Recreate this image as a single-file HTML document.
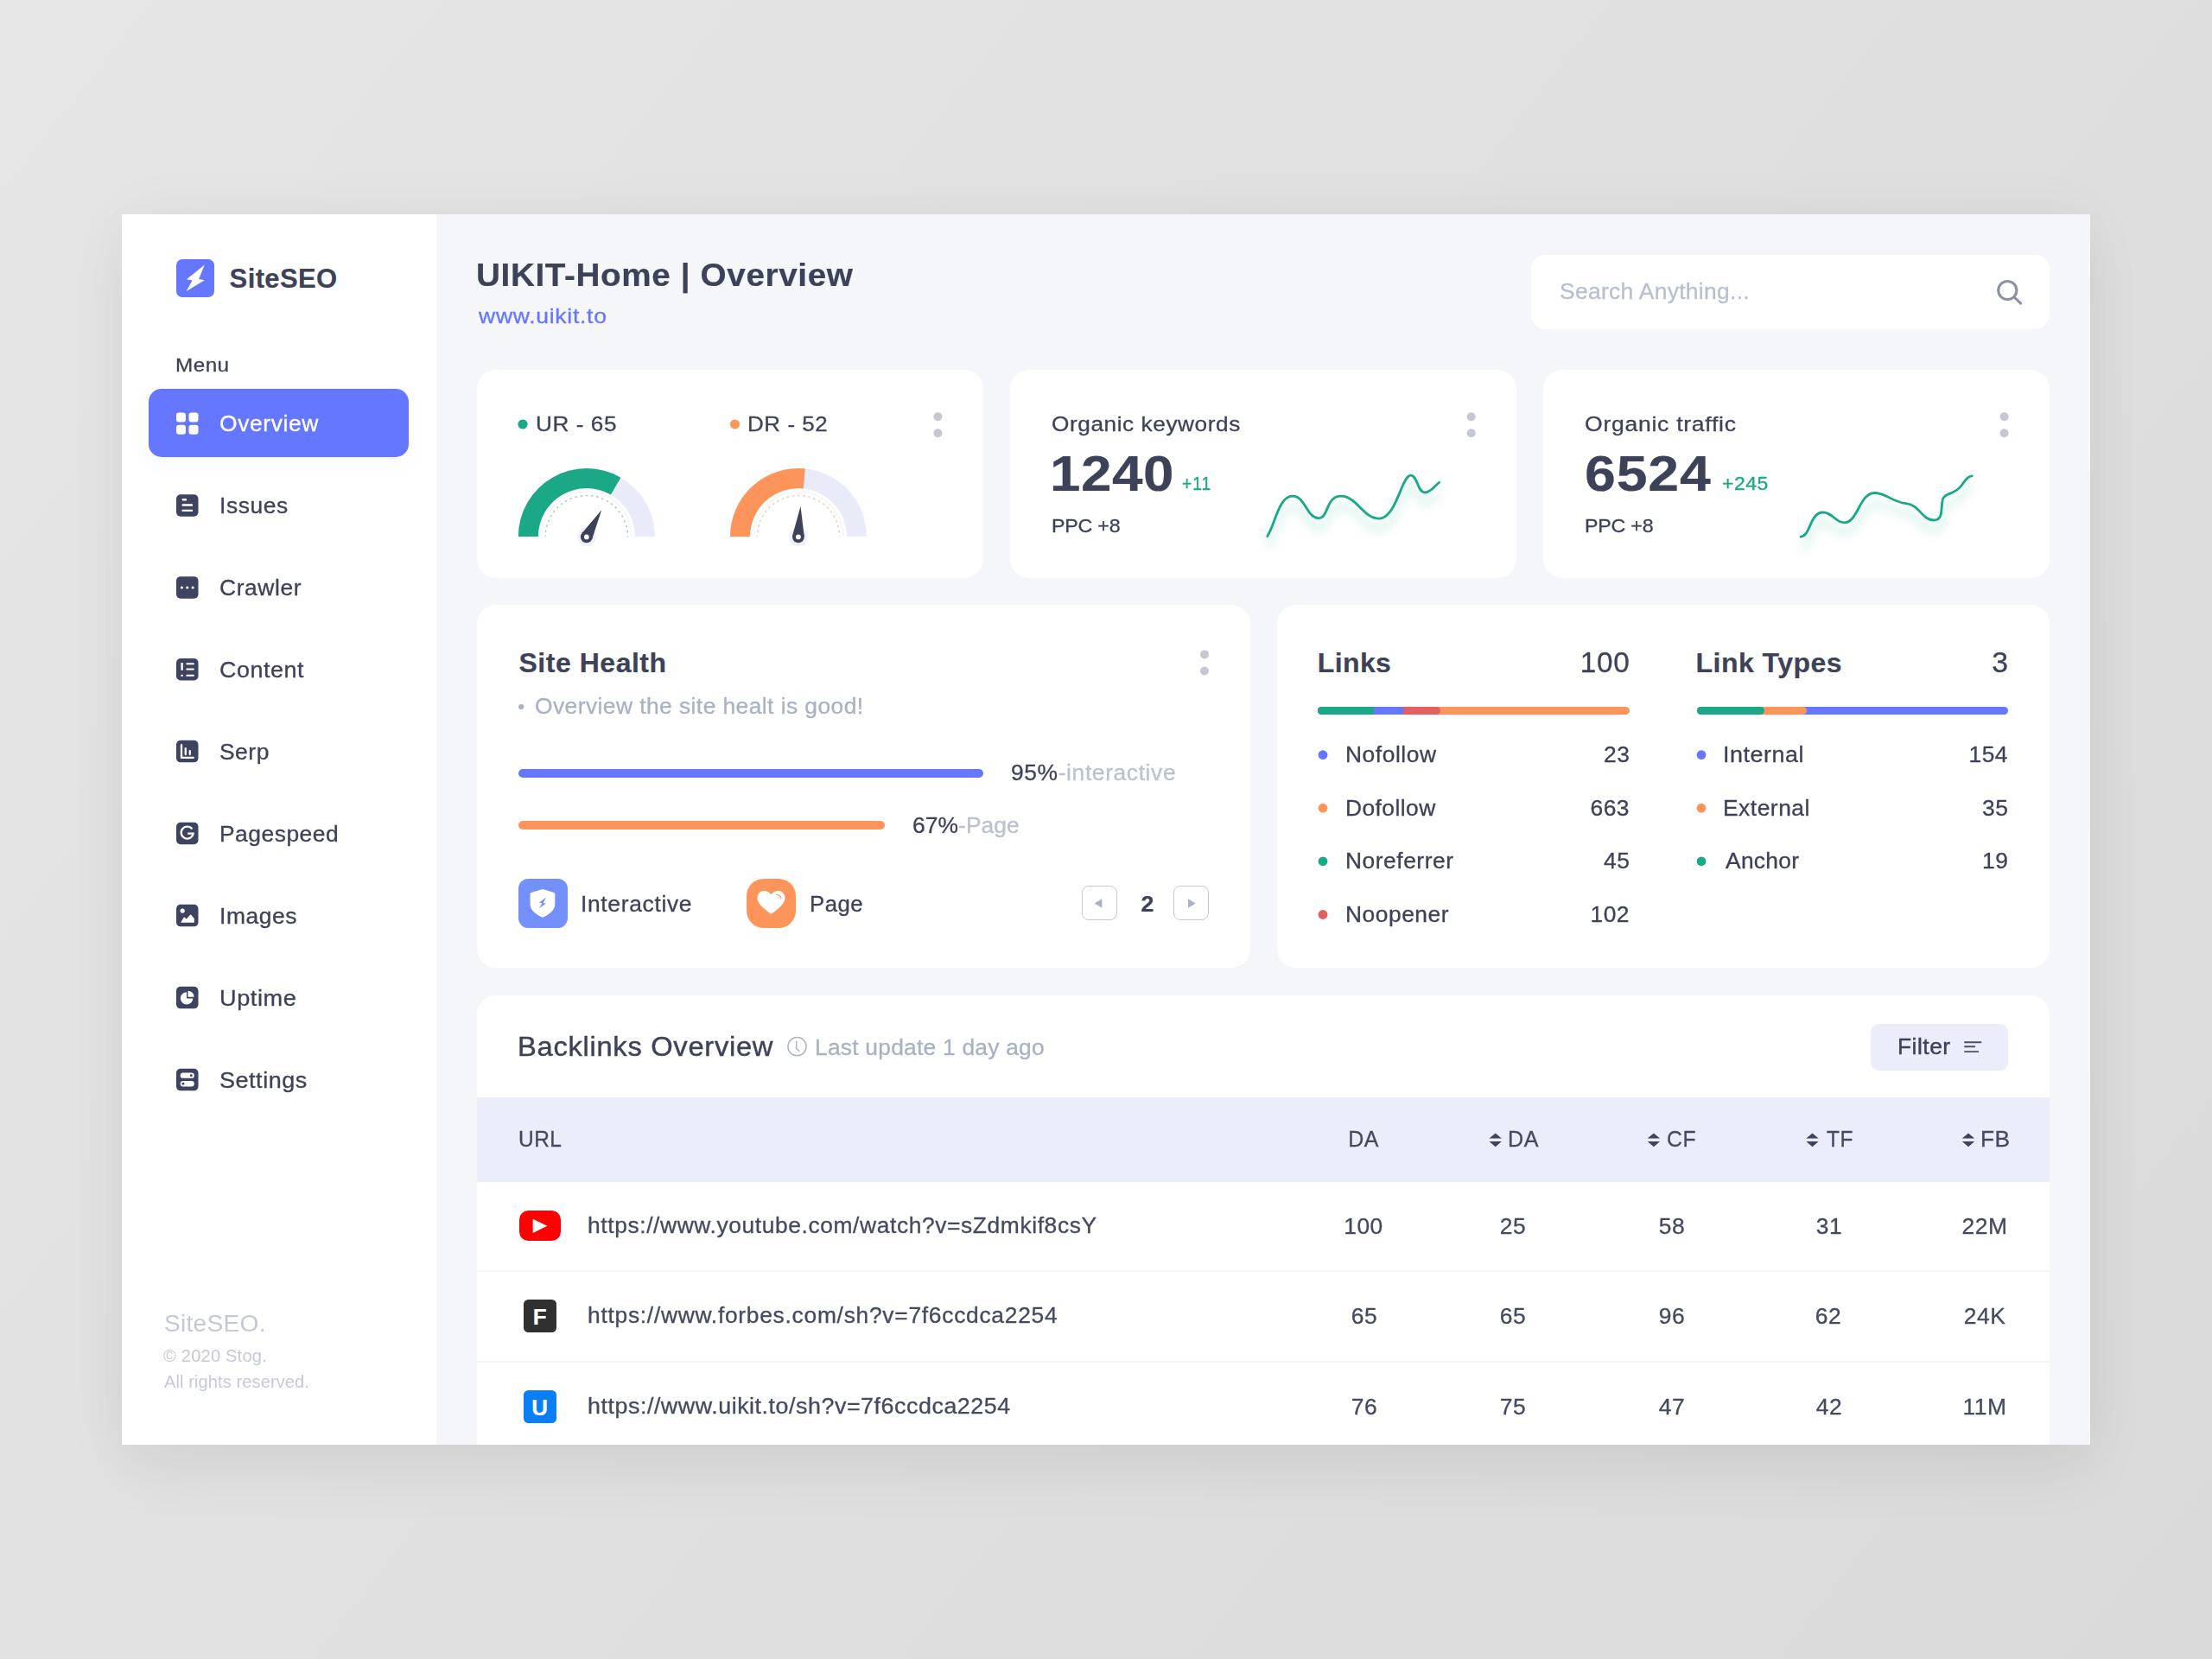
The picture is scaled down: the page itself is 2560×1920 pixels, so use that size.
<!DOCTYPE html>
<html lang="en"><head><meta charset="utf-8"><title>SiteSEO - UIKIT-Home Overview</title>
<style>
html,body{margin:0;padding:0}
body{width:2560px;height:1920px;overflow:hidden;position:relative;background:linear-gradient(128deg,#e6e6e6 0%,#e0e0e0 50%,#dadada 100%);font-family:"Liberation Sans",sans-serif}
.t{position:absolute;white-space:nowrap;line-height:1;-webkit-text-stroke:0.3px currentColor}
.bd{-webkit-text-stroke:0.2px currentColor}
.lt{-webkit-text-stroke:0}
.med{-webkit-text-stroke:0.42px currentColor}
.b{position:absolute}
.card{position:absolute;background:#fff;border-radius:22px}
.gfx{position:absolute;left:0;top:0}
.pg{position:absolute;box-sizing:border-box;border:1.6px solid #c6c9d4;border-radius:8px;background:#fff}
</style></head>
<body>
<div class="b" style="left:141px;top:248px;width:2278px;height:1424px;background:#f5f6fa;box-shadow:0 32px 70px rgba(0,0,0,.052),0 0 70px rgba(0,0,0,.04);"></div>
<aside>
<div class="b" style="left:141px;top:248px;width:364px;height:1424px;background:#ffffff;"></div>
<div class="b" style="left:172px;top:450px;width:301px;height:79px;background:#6576ff;border-radius:15px;box-shadow:0 8px 24px rgba(101,118,255,.045);"></div>
<div class="b" style="left:204px;top:300px;width:44px;height:44px;background:#6576ff;border-radius:7px;"></div>
<div class="t bd" style="top:307.16px;font-size:31.0px;color:#3d4259;font-weight:700;letter-spacing:0.368px;left:265.61px;">SiteSEO</div>
<div class="t" style="top:411.60px;font-size:22.44px;color:#3d4259;letter-spacing:0.449px;left:203.31px;transform:scaleX(1.0805);transform-origin:left center;">Menu</div>
<div class="t" style="top:478.11px;font-size:25.5px;color:#ffffff;letter-spacing:0.609px;left:253.80px;transform:scaleX(1.035);transform-origin:left center;">Overview</div>
<div class="t" style="top:573.01px;font-size:25.5px;color:#3d4259;letter-spacing:0.580px;left:253.80px;transform:scaleX(1.035);transform-origin:left center;">Issues</div>
<div class="t" style="top:667.91px;font-size:25.5px;color:#3d4259;letter-spacing:0.590px;left:253.80px;transform:scaleX(1.035);transform-origin:left center;">Crawler</div>
<div class="t" style="top:762.81px;font-size:25.5px;color:#3d4259;letter-spacing:0.525px;left:253.80px;transform:scaleX(1.0546);transform-origin:left center;">Content</div>
<div class="t" style="top:857.61px;font-size:25.5px;color:#3d4259;letter-spacing:0.510px;left:253.80px;transform:scaleX(1.0346);transform-origin:left center;">Serp</div>
<div class="t" style="top:952.51px;font-size:25.5px;color:#3d4259;letter-spacing:0.491px;left:253.80px;transform:scaleX(1.035);transform-origin:left center;">Pagespeed</div>
<div class="t" style="top:1047.61px;font-size:25.5px;color:#3d4259;letter-spacing:0.562px;left:253.80px;transform:scaleX(1.035);transform-origin:left center;">Images</div>
<div class="t" style="top:1142.61px;font-size:25.5px;color:#3d4259;letter-spacing:0.549px;left:253.80px;transform:scaleX(1.0645);transform-origin:left center;">Uptime</div>
<div class="t" style="top:1237.61px;font-size:25.5px;color:#3d4259;letter-spacing:0.508px;left:253.80px;transform:scaleX(1.0581);transform-origin:left center;">Settings</div>
<div class="t lt" style="top:1517.32px;font-size:28.56px;color:#c5c9d5;letter-spacing:0.262px;left:190.22px;transform:scaleX(0.985);transform-origin:left center;">SiteSEO.</div>
<div class="t lt" style="top:1559.89px;font-size:19.38px;color:#c5c9d5;letter-spacing:0.216px;left:189.20px;transform:scaleX(1.035);transform-origin:left center;">© 2020 Stog.</div>
<div class="t lt" style="top:1589.79px;font-size:19.38px;color:#c5c9d5;letter-spacing:0.100px;left:190.26px;transform:scaleX(1.035);transform-origin:left center;">All rights reserved.</div>
</aside>
<header>
<div class="b" style="left:1772px;top:295px;width:600px;height:85.5px;background:#ffffff;border-radius:17px;"></div>
<div class="t bd" style="top:301.43px;font-size:36.0px;color:#3d4259;font-weight:700;letter-spacing:0.568px;left:551.28px;transform:scaleX(1.075);transform-origin:left center;">UIKIT-Home | Overview</div>
<div class="t" style="top:354.38px;font-size:24.48px;color:#6576ff;letter-spacing:0.648px;left:553.64px;transform:scaleX(1.085);transform-origin:left center;">www.uikit.to</div>
<div class="t" style="top:325.01px;font-size:25.5px;color:#b9bfcf;letter-spacing:0.311px;left:1804.50px;transform:scaleX(1.035);transform-origin:left center;">Search Anything...</div>
</header>
<main>
<section>
<div class="card" style="left:552px;top:428px;width:586px;height:241px;"></div>
<div class="card" style="left:1169px;top:428px;width:586px;height:241px;"></div>
<div class="card" style="left:1786px;top:428px;width:586px;height:241px;"></div>
<div class="t" style="top:478.58px;font-size:24.48px;color:#3d4259;letter-spacing:0.520px;left:620.08px;transform:scaleX(1.07);transform-origin:left center;">UR - 65</div>
<div class="t" style="top:478.58px;font-size:24.48px;color:#3d4259;letter-spacing:0.532px;left:865.37px;transform:scaleX(1.0604);transform-origin:left center;">DR - 52</div>
<div class="t" style="top:478.58px;font-size:24.48px;color:#3d4259;letter-spacing:0.528px;left:1217.26px;transform:scaleX(1.0714);transform-origin:left center;">Organic keywords</div>
<div class="t bd" style="top:519.55px;font-size:57.0px;color:#3d4259;font-weight:700;letter-spacing:0.446px;left:1215.08px;transform:scaleX(1.12);transform-origin:left center;">1240</div>
<div class="t" style="top:549.20px;font-size:22.44px;color:#1aa886;letter-spacing:1.124px;left:1367.76px;transform:scaleX(0.86);transform-origin:left center;">+11</div>
<div class="t" style="top:598.40px;font-size:22.44px;color:#3d4259;letter-spacing:-0.206px;left:1216.59px;transform:scaleX(1.035);transform-origin:left center;">PPC +8</div>
<div class="t" style="top:478.58px;font-size:24.48px;color:#3d4259;letter-spacing:0.670px;left:1834.44px;transform:scaleX(1.085);transform-origin:left center;">Organic traffic</div>
<div class="t bd" style="top:519.55px;font-size:57.0px;color:#3d4259;font-weight:700;letter-spacing:0.752px;left:1833.94px;transform:scaleX(1.13);transform-origin:left center;">6524</div>
<div class="t" style="top:549.20px;font-size:22.44px;color:#1aa886;letter-spacing:0.449px;left:1992.97px;transform:scaleX(1.0268);transform-origin:left center;">+245</div>
<div class="t" style="top:598.40px;font-size:22.44px;color:#3d4259;letter-spacing:-0.206px;left:1833.79px;transform:scaleX(1.035);transform-origin:left center;">PPC +8</div>
</section>
<section>
<div class="card" style="left:552px;top:700px;width:895px;height:420px;"></div>
<div class="card" style="left:1478px;top:700px;width:894px;height:420px;"></div>
<div class="b" style="left:600.3px;top:890.2px;width:537.4px;height:9.6px;background:#6576ff;border-radius:5px;"></div>
<div class="b" style="left:600.3px;top:950.2px;width:423.5px;height:9.6px;background:#fd955b;border-radius:5px;"></div>
<div class="b" style="left:1525px;top:817.5px;width:360.8px;height:9.4px;background:#fd955b;border-radius:5px;"></div>
<div class="b" style="left:1525px;top:817.5px;width:142px;height:9.4px;background:#e2605f;border-radius:5px;"></div>
<div class="b" style="left:1525px;top:817.5px;width:99.9px;height:9.4px;background:#6576ff;border-radius:5px;"></div>
<div class="b" style="left:1525px;top:817.5px;width:64.6px;height:9.4px;background:#1aa886;border-radius:5px;border-radius:5px 0 0 5px;"></div>
<div class="b" style="left:1963.6px;top:817.5px;width:360.4px;height:9.4px;background:#6576ff;border-radius:5px;"></div>
<div class="b" style="left:1963.6px;top:817.5px;width:127.4px;height:9.4px;background:#fd955b;border-radius:5px;"></div>
<div class="b" style="left:1963.6px;top:817.5px;width:78.6px;height:9.4px;background:#1aa886;border-radius:5px;"></div>
<div class="b" style="left:600px;top:1017px;width:56.6px;height:57px;background:#7491fb;border-radius:11.5px;"></div>
<div class="b" style="left:864px;top:1017px;width:56.9px;height:57px;background:#fd955b;border-radius:20px;"></div>
<div class="pg" style="left:1251.7px;top:1025px;width:41px;height:40.4px;"></div>
<div class="pg" style="left:1357.8px;top:1025px;width:41px;height:40.4px;"></div>
<div class="t bd" style="top:751.31px;font-size:32.0px;color:#3d4259;font-weight:700;letter-spacing:0.526px;left:600.48px;">Site Health</div>
<div class="t" style="top:805.01px;font-size:25.5px;color:#a9b2c3;letter-spacing:0.416px;left:618.85px;transform:scaleX(1.035);transform-origin:left center;">Overview the site healt is good!</div>
<div class="t" style="top:882.01px;font-size:25.5px;color:#3d4259;letter-spacing:0.599px;left:1170.06px;transform:scaleX(1.035);transform-origin:left center;">95%<span style="color:#bbc1cf">-interactive</span></div>
<div class="t" style="top:942.71px;font-size:25.5px;color:#3d4259;letter-spacing:0.068px;left:1055.56px;transform:scaleX(1.035);transform-origin:left center;">67%<span style="color:#bbc1cf">-Page</span></div>
<div class="t" style="top:1033.61px;font-size:25.5px;color:#3d4259;letter-spacing:0.651px;left:672.16px;transform:scaleX(1.035);transform-origin:left center;">Interactive</div>
<div class="t" style="top:1033.61px;font-size:25.5px;color:#3d4259;letter-spacing:0.510px;left:936.79px;transform:scaleX(1.01);transform-origin:left center;">Page</div>
<div class="t bd" style="top:1033.74px;font-size:25.0px;color:#3d4259;font-weight:700;left:1227.57px;width:200px;text-align:center;transform:scaleX(1.07);transform-origin:center center;">2</div>
<div class="t bd" style="top:751.11px;font-size:32.0px;color:#3d4259;font-weight:700;letter-spacing:0.361px;left:1524.86px;">Links</div>
<div class="t" style="top:750.67px;font-size:32.64px;color:#3d4259;letter-spacing:0.653px;right:673.53px;transform:scaleX(1.0209);transform-origin:right center;">100</div>
<div class="t bd" style="top:751.11px;font-size:32.0px;color:#3d4259;font-weight:700;letter-spacing:0.474px;left:1962.56px;">Link Types</div>
<div class="t" style="top:750.67px;font-size:32.64px;color:#3d4259;right:235.52px;transform:scaleX(1.035);transform-origin:right center;">3</div>
<div class="t" style="top:861.21px;font-size:25.5px;color:#3d4259;letter-spacing:0.530px;left:1556.63px;transform:scaleX(1.035);transform-origin:left center;">Nofollow</div>
<div class="t num" style="top:861.21px;font-size:25.5px;color:#3d4259;letter-spacing:0.510px;right:673.81px;transform:scaleX(1.035);transform-origin:right center;">23</div>
<div class="t" style="top:922.81px;font-size:25.5px;color:#3d4259;letter-spacing:0.418px;left:1556.63px;transform:scaleX(1.035);transform-origin:left center;">Dofollow</div>
<div class="t num" style="top:922.81px;font-size:25.5px;color:#3d4259;letter-spacing:0.510px;right:673.81px;transform:scaleX(1.035);transform-origin:right center;">663</div>
<div class="t" style="top:984.41px;font-size:25.5px;color:#3d4259;letter-spacing:0.506px;left:1556.63px;transform:scaleX(1.035);transform-origin:left center;">Noreferrer</div>
<div class="t num" style="top:984.41px;font-size:25.5px;color:#3d4259;letter-spacing:0.510px;right:673.86px;transform:scaleX(1.035);transform-origin:right center;">45</div>
<div class="t" style="top:1046.11px;font-size:25.5px;color:#3d4259;letter-spacing:0.494px;left:1556.63px;transform:scaleX(1.035);transform-origin:left center;">Noopener</div>
<div class="t num" style="top:1046.11px;font-size:25.5px;color:#3d4259;letter-spacing:0.510px;right:673.64px;transform:scaleX(1.035);transform-origin:right center;">102</div>
<div class="t" style="top:861.21px;font-size:25.5px;color:#3d4259;letter-spacing:0.520px;left:1994.12px;transform:scaleX(1.0527);transform-origin:left center;">Internal</div>
<div class="t num" style="top:861.21px;font-size:25.5px;color:#3d4259;letter-spacing:0.510px;right:235.70px;transform:scaleX(1.035);transform-origin:right center;">154</div>
<div class="t" style="top:922.81px;font-size:25.5px;color:#3d4259;letter-spacing:0.494px;left:1994.43px;transform:scaleX(1.035);transform-origin:left center;">External</div>
<div class="t num" style="top:922.81px;font-size:25.5px;color:#3d4259;letter-spacing:0.510px;right:235.36px;transform:scaleX(1.035);transform-origin:right center;">35</div>
<div class="t" style="top:984.41px;font-size:25.5px;color:#3d4259;letter-spacing:0.281px;left:1996.55px;transform:scaleX(1.035);transform-origin:left center;">Anchor</div>
<div class="t num" style="top:984.41px;font-size:25.5px;color:#3d4259;letter-spacing:0.510px;right:235.22px;transform:scaleX(1.035);transform-origin:right center;">19</div>
</section>
<section>
<div class="card" style="left:552px;top:1152px;width:1820px;height:520px;border-radius:22px 22px 0 0;"></div>
<div class="b" style="left:552px;top:1270.3px;width:1820px;height:97.3px;background:#ebedfb;"></div>
<div class="b" style="left:552px;top:1470px;width:1820px;height:2px;background:#f5f6f9;"></div>
<div class="b" style="left:552px;top:1574.5px;width:1820px;height:2px;background:#f5f6f9;"></div>
<div class="b" style="left:2165px;top:1184.5px;width:159px;height:54px;background:#ebedfb;border-radius:9px;"></div>
<div class="b" style="left:601.3px;top:1401.3px;width:47.5px;height:34.8px;background:#ff0000;border-radius:10.5px;"></div>
<div class="b" style="left:606px;top:1504px;width:38px;height:38px;background:#303030;border-radius:5.5px;"></div>
<div class="b" style="left:606px;top:1608.8px;width:38px;height:38px;background:#0a7ff5;border-radius:5.5px;"></div>
<div class="t med" style="top:1196.43px;font-size:31.62px;color:#3d4259;letter-spacing:0.671px;left:599.22px;transform:scaleX(1.035);transform-origin:left center;">Backlinks Overview</div>
<div class="t" style="top:1200.01px;font-size:25.5px;color:#a9b2c3;letter-spacing:0.217px;left:943.13px;transform:scaleX(1.035);transform-origin:left center;">Last update 1 day ago</div>
<div class="t med" style="top:1198.71px;font-size:25.5px;color:#3d4259;letter-spacing:0.483px;left:2196.43px;transform:scaleX(1.035);transform-origin:left center;">Filter</div>
<div class="t" style="top:1306.01px;font-size:25.5px;color:#444a60;letter-spacing:0.510px;left:600.01px;transform:scaleX(0.9606);transform-origin:left center;">URL</div>
<div class="t" style="top:1306.01px;font-size:25.5px;color:#444a60;letter-spacing:0.510px;left:1477.85px;width:200px;text-align:center;transform:scaleX(0.9802);transform-origin:center center;">DA</div>
<div class="t" style="top:1306.01px;font-size:25.5px;color:#444a60;letter-spacing:0.510px;left:1744.64px;transform:scaleX(0.9848);transform-origin:left center;">DA</div>
<div class="t" style="top:1306.01px;font-size:25.5px;color:#444a60;letter-spacing:0.510px;left:1929.44px;transform:scaleX(0.9729);transform-origin:left center;">CF</div>
<div class="t" style="top:1306.01px;font-size:25.5px;color:#444a60;letter-spacing:0.510px;left:2113.75px;transform:scaleX(0.9594);transform-origin:left center;">TF</div>
<div class="t" style="top:1306.01px;font-size:25.5px;color:#444a60;letter-spacing:0.510px;left:2291.94px;transform:scaleX(1.0323);transform-origin:left center;">FB</div>
<div class="t" style="top:1405.81px;font-size:25.5px;color:#444a60;letter-spacing:0.577px;left:680.47px;transform:scaleX(1.035);transform-origin:left center;">https://www.youtube.com/watch?v=sZdmkif8csY</div>
<div class="t num" style="top:1406.81px;font-size:25.5px;color:#444a60;letter-spacing:0.510px;left:1478.37px;width:200px;text-align:center;transform:scaleX(1.035);transform-origin:center center;">100</div>
<div class="t num" style="top:1406.81px;font-size:25.5px;color:#444a60;letter-spacing:0.510px;left:1651.25px;width:200px;text-align:center;transform:scaleX(1.035);transform-origin:center center;">25</div>
<div class="t num" style="top:1406.81px;font-size:25.5px;color:#444a60;letter-spacing:0.510px;left:1835.01px;width:200px;text-align:center;transform:scaleX(1.035);transform-origin:center center;">58</div>
<div class="t num" style="top:1406.81px;font-size:25.5px;color:#444a60;letter-spacing:0.510px;left:2016.61px;width:200px;text-align:center;transform:scaleX(1.035);transform-origin:center center;">31</div>
<div class="t num" style="top:1406.81px;font-size:25.5px;color:#444a60;letter-spacing:0.510px;left:2197.48px;width:200px;text-align:center;transform:scaleX(1.035);transform-origin:center center;">22M</div>
<div class="t" style="top:1510.21px;font-size:25.5px;color:#444a60;letter-spacing:0.693px;left:680.47px;transform:scaleX(1.035);transform-origin:left center;">https://www.forbes.com/sh?v=7f6ccdca2254</div>
<div class="t num" style="top:1511.21px;font-size:25.5px;color:#444a60;letter-spacing:0.510px;left:1478.75px;width:200px;text-align:center;transform:scaleX(1.035);transform-origin:center center;">65</div>
<div class="t num" style="top:1511.21px;font-size:25.5px;color:#444a60;letter-spacing:0.510px;left:1651.25px;width:200px;text-align:center;transform:scaleX(1.035);transform-origin:center center;">65</div>
<div class="t num" style="top:1511.21px;font-size:25.5px;color:#444a60;letter-spacing:0.510px;left:1834.93px;width:200px;text-align:center;transform:scaleX(1.035);transform-origin:center center;">96</div>
<div class="t num" style="top:1511.21px;font-size:25.5px;color:#444a60;letter-spacing:0.510px;left:2016.46px;width:200px;text-align:center;transform:scaleX(1.035);transform-origin:center center;">62</div>
<div class="t num" style="top:1511.21px;font-size:25.5px;color:#444a60;letter-spacing:0.510px;left:2196.55px;width:200px;text-align:center;transform:scaleX(1.035);transform-origin:center center;">24K</div>
<div class="t" style="top:1614.61px;font-size:25.5px;color:#444a60;letter-spacing:0.508px;left:680.44px;transform:scaleX(1.053);transform-origin:left center;">https://www.uikit.to/sh?v=7f6ccdca2254</div>
<div class="t num" style="top:1615.61px;font-size:25.5px;color:#444a60;letter-spacing:0.510px;left:1478.77px;width:200px;text-align:center;transform:scaleX(1.035);transform-origin:center center;">76</div>
<div class="t num" style="top:1615.61px;font-size:25.5px;color:#444a60;letter-spacing:0.510px;left:1651.24px;width:200px;text-align:center;transform:scaleX(1.035);transform-origin:center center;">75</div>
<div class="t num" style="top:1615.61px;font-size:25.5px;color:#444a60;letter-spacing:0.510px;left:1835.32px;width:200px;text-align:center;transform:scaleX(1.035);transform-origin:center center;">47</div>
<div class="t num" style="top:1615.61px;font-size:25.5px;color:#444a60;letter-spacing:0.510px;left:2016.82px;width:200px;text-align:center;transform:scaleX(1.035);transform-origin:center center;">42</div>
<div class="t num" style="top:1615.61px;font-size:25.5px;color:#444a60;letter-spacing:0.510px;left:2197.14px;width:200px;text-align:center;transform:scaleX(1.035);transform-origin:center center;">11M</div>
<div class="t bd" style="top:1511.19px;font-size:26.0px;color:#ffffff;font-weight:700;left:524.61px;width:200px;text-align:center;">F</div>
<div class="t bd" style="top:1615.99px;font-size:26.0px;color:#ffffff;font-weight:700;left:524.61px;width:200px;text-align:center;">U</div>
</section>
</main>
<svg class="gfx" width="2560" height="1920" viewBox="0 0 2560 1920">
<defs><filter id="blur" x="-20%" y="-50%" width="140%" height="220%"><feGaussianBlur stdDeviation="6"/></filter></defs>
<path d="M599.90 621.10A79 79 0 0 1 757.90 621.10L734.90 621.10A56 56 0 0 0 622.90 621.10Z" fill="#e9ebf8"/>
<path d="M599.90 621.10A79 79 0 0 1 718.40 552.68L706.90 572.60A56 56 0 0 0 622.90 621.10Z" fill="#1aa886"/>
<path d="M626.90 621.10A52 52 0 0 1 730.90 621.10" fill="none" stroke="#f3f2f8" stroke-width="1.2"/>
<path d="M631.30 621.10A47.6 47.6 0 0 1 726.50 621.10" fill="none" stroke="#a8cdc2" stroke-width="1.5" stroke-dasharray="2.6 3.63" stroke-dashoffset="1.3"/>
<circle cx="678.80" cy="621.40" r="10.8" fill="#eff0fb"/>
<path d="M696.20 590.20L685.36 623.53L673.54 616.94Z" fill="#3d4259"/>
<circle cx="678.80" cy="621.40" r="6.9" fill="#3d4259"/>
<circle cx="678.80" cy="621.40" r="2.9" fill="#fff"/>
<path d="M845.00 621.10A79 79 0 0 1 1003.00 621.10L980.00 621.10A56 56 0 0 0 868.00 621.10Z" fill="#e9ebf8"/>
<path d="M845.00 621.10A79 79 0 0 1 931.85 542.49L929.56 565.38A56 56 0 0 0 868.00 621.10Z" fill="#fd955b"/>
<path d="M872.00 621.10A52 52 0 0 1 976.00 621.10" fill="none" stroke="#f3f2f8" stroke-width="1.2"/>
<path d="M876.40 621.10A47.6 47.6 0 0 1 971.60 621.10" fill="none" stroke="#f6cbb2" stroke-width="1.5" stroke-dasharray="2.6 3.63" stroke-dashoffset="1.3"/>
<circle cx="923.90" cy="621.40" r="10.8" fill="#eff0fb"/>
<path d="M926.50 586.10L930.75 620.56L917.25 619.56Z" fill="#3d4259"/>
<circle cx="923.90" cy="621.40" r="6.9" fill="#3d4259"/>
<circle cx="923.90" cy="621.40" r="2.9" fill="#fff"/>
<path d="M1466.8 620.5C1476 606 1480 574.2 1495.8 574.2C1511 574.2 1512 599.6 1526.2 599.6C1538 599.6 1534 574.2 1552 574.2C1570 574.2 1578 600.2 1596 600.2C1616 600.2 1622 550.2 1632.6 550.2C1641 550.2 1640 570 1649.1 570C1655.5 570 1660 563 1665.6 558.3" fill="none" stroke="#1aa886" stroke-opacity=".2" stroke-width="5" transform="translate(0,12)" filter="url(#blur)"/><path d="M1466.8 620.5C1476 606 1480 574.2 1495.8 574.2C1511 574.2 1512 599.6 1526.2 599.6C1538 599.6 1534 574.2 1552 574.2C1570 574.2 1578 600.2 1596 600.2C1616 600.2 1622 550.2 1632.6 550.2C1641 550.2 1640 570 1649.1 570C1655.5 570 1660 563 1665.6 558.3" fill="none" stroke="#1aa886" stroke-width="2.8" stroke-linecap="round" stroke-linejoin="round"/>
<path d="M2084.1 621.1C2096 620 2094 593 2110.1 593C2121 593 2124 604.8 2134.7 604.8C2150 604.8 2152 570.5 2169.4 570.5C2183 570.5 2190 581 2205.6 582.6C2222 584 2224 602 2238 602C2252 602 2244 580 2250 575C2256 569.5 2262 572 2270 562C2275 555.5 2277 551 2282.3 550.8" fill="none" stroke="#1aa886" stroke-opacity=".2" stroke-width="5" transform="translate(0,12)" filter="url(#blur)"/><path d="M2084.1 621.1C2096 620 2094 593 2110.1 593C2121 593 2124 604.8 2134.7 604.8C2150 604.8 2152 570.5 2169.4 570.5C2183 570.5 2190 581 2205.6 582.6C2222 584 2224 602 2238 602C2252 602 2244 580 2250 575C2256 569.5 2262 572 2270 562C2275 555.5 2277 551 2282.3 550.8" fill="none" stroke="#1aa886" stroke-width="2.8" stroke-linecap="round" stroke-linejoin="round"/>
<circle cx="1085.4" cy="482.2" r="5" fill="#c5c7d2"/>
<circle cx="1085.4" cy="501.3" r="5" fill="#c5c7d2"/>
<circle cx="1702.7" cy="482.2" r="5" fill="#c5c7d2"/>
<circle cx="1702.7" cy="501.3" r="5" fill="#c5c7d2"/>
<circle cx="2319.6" cy="482.2" r="5" fill="#c5c7d2"/>
<circle cx="2319.6" cy="501.3" r="5" fill="#c5c7d2"/>
<circle cx="1394" cy="757.4" r="5" fill="#c5c7d2"/>
<circle cx="1394" cy="776.5" r="5" fill="#c5c7d2"/>
<circle cx="605" cy="491" r="5.6" fill="#1aa886"/>
<circle cx="850.5" cy="491" r="5.6" fill="#fd955b"/>
<circle cx="603.2" cy="818" r="3.1" fill="#a9b2c3"/>
<circle cx="1531" cy="873.6" r="5.4" fill="#6576ff"/>
<circle cx="1531" cy="935.2" r="5.4" fill="#fd955b"/>
<circle cx="1531" cy="996.8" r="5.4" fill="#1aa886"/>
<circle cx="1531" cy="1058.5" r="5.4" fill="#e2605f"/>
<circle cx="1969" cy="873.6" r="5.4" fill="#6576ff"/>
<circle cx="1969" cy="935.2" r="5.4" fill="#fd955b"/>
<circle cx="1969" cy="996.8" r="5.4" fill="#1aa886"/>
<path transform="translate(204,300)" d="M32.8 6.5L11.9 23.3L18.6 24.5L11.7 37.1L32.8 24.2L26.1 23Z" fill="#fff"/>
<g fill="none" stroke="#8b90a4" stroke-width="3" stroke-linecap="round"><circle cx="2323.3" cy="336" r="10.6"/><path d="M2331.2 344L2338.6 351.2"/></g>
<g transform="translate(204,477.5)" fill="#fff"><rect width="11" height="11" rx="3"/><rect x="14.5" width="11" height="11" rx="3"/><rect y="14.2" width="11" height="11" rx="3"/><rect x="14.5" y="14.2" width="11" height="11" rx="3"/></g>
<g transform="translate(204,572.25)"><rect width="25.5" height="25.5" rx="5" fill="#3e4460"/><g fill="#fff"><rect x="6.6" y="4.8" width="5.4" height="2.4" rx=".6"/><rect x="6.6" y="11.1" width="12.4" height="2.4" rx=".6"/><rect x="6.6" y="17.4" width="12.4" height="2.4" rx=".6"/></g></g>
<g transform="translate(204,667.15)"><rect width="25.5" height="25.5" rx="5" fill="#3e4460"/><g fill="#fff"><circle cx="6.4" cy="12.8" r="1.55"/><circle cx="12.75" cy="12.8" r="1.55"/><circle cx="19.1" cy="12.8" r="1.55"/></g></g>
<g transform="translate(204,762.05)"><rect width="25.5" height="25.5" rx="5" fill="#3e4460"/><g fill="#fff"><rect x="5.4" y="5" width="2.4" height="8.7" rx=".5"/><rect x="5.4" y="18.7" width="2.4" height="2" rx=".5"/><rect x="11.4" y="5.2" width="9.4" height="1.9" rx=".6"/><rect x="11.4" y="11.5" width="9.4" height="1.9" rx=".6"/><rect x="11.4" y="18.7" width="9.4" height="1.9" rx=".6"/></g></g>
<g transform="translate(204,856.85)"><rect width="25.5" height="25.5" rx="5" fill="#3e4460"/><g fill="none" stroke="#fff" stroke-linecap="round" stroke-linejoin="round"><path d="M6 5.3V20.1H19.7" stroke-width="2.3"/><path d="M10.75 9.2V16.2" stroke-width="2.3"/><path d="M15.75 12.2V16.2" stroke-width="2.3"/></g></g>
<g transform="translate(204,951.75)"><rect width="25.5" height="25.5" rx="5" fill="#3e4460"/><path d="M18.3 7.6A7 7 0 1 0 19.6 12.9H13.2" fill="none" stroke="#fff" stroke-width="2.3" stroke-linejoin="miter"/></g>
<g transform="translate(204,1046.85)"><rect width="25.5" height="25.5" rx="5" fill="#3e4460"/><g fill="#fff"><circle cx="7.2" cy="7.2" r="2.6"/><path d="M5.1 20.8L9 14.3L11.8 16.7L16.6 11.3L20.8 16.1V20.8Z"/></g></g>
<g transform="translate(204,1141.85)"><rect width="25.5" height="25.5" rx="5" fill="#3e4460"/><g fill="#fff"><path d="M12.05 13.55V6.35A7.2 7.2 0 1 0 19.25 13.55Z"/><path d="M13.5 11.95V4.9A7.1 7.1 0 0 1 20.6 11.95Z"/></g></g>
<g transform="translate(204,1236.85)"><rect width="25.5" height="25.5" rx="5" fill="#3e4460"/><g><rect x="4.7" y="4.6" width="16.1" height="6.4" rx="3.2" fill="#fff"/><rect x="4.7" y="14.2" width="16.1" height="6.4" rx="3.2" fill="#fff"/><circle cx="17.3" cy="7.8" r="1.45" fill="#3e4460"/><circle cx="7.9" cy="17.4" r="1.45" fill="#3e4460"/></g></g>
<g transform="translate(600,1017)"><path d="M27.9 11.9L41.2 15.9Q42.3 16.3 42.3 17.6V29C42.3 36.6 35.6 41.2 27.9 44.8C20.2 41.2 13.6 36.6 13.6 29V17.6Q13.6 16.3 14.7 15.9Z" fill="#fff"/><path d="M32 21.4L24.1 27.6L27.3 28.4L23.9 34.3L31.7 28.8L28.6 27.9Z" fill="#7491fb"/></g>
<g transform="translate(864,1017)"><path d="M28.5 41C23.4 36.6 12.5 30 12.5 22.4C12.5 17.6 16 14.1 20.4 14.1C23.8 14.1 26.7 15.8 28.5 18.6C30.3 15.8 33.2 14.1 36.6 14.1C41 14.1 44.5 17.6 44.5 22.4C44.5 30 33.6 36.6 28.5 41Z" fill="#fff"/><path d="M34.6 18.3C37.6 18.4 39.6 20.2 40 22.9" fill="none" stroke="#f0a27a" stroke-width="1.3" stroke-linecap="round"/></g>
<path d="M1266.6 1045.5L1275.4 1040.3V1050.7Z" fill="#aab3c5"/><path d="M1383.8 1045.5L1375 1040.3V1050.7Z" fill="#aab3c5"/>
<g fill="none" stroke="#aeb5c6" stroke-width="1.5" stroke-linecap="round" stroke-linejoin="round"><circle cx="922.5" cy="1211.2" r="10.6"/><path d="M921.7 1205.3V1213.5L924.8 1216.2"/></g>
<g stroke="#4a5066" stroke-width="1.9" stroke-linecap="round"><path d="M2274 1206.3H2292.4"/><path d="M2274 1211.3H2285.2"/><path d="M2274 1217.1H2289.3"/></g>
<path d="M1723.5 1317.6L1730.7 1311.4L1737.9 1317.6Z M1723.5 1321.1L1730.7 1327.2L1737.9 1321.1Z" fill="#3e4460"/>
<path d="M1906.7 1317.6L1913.9 1311.4L1921.1 1317.6Z M1906.7 1321.1L1913.9 1327.2L1921.1 1321.1Z" fill="#3e4460"/>
<path d="M2090.3 1317.6L2097.5 1311.4L2104.7 1317.6Z M2090.3 1321.1L2097.5 1327.2L2104.7 1321.1Z" fill="#3e4460"/>
<path d="M2270.8 1317.6L2278.0 1311.4L2285.2 1317.6Z M2270.8 1321.1L2278.0 1327.2L2285.2 1321.1Z" fill="#3e4460"/>
<path d="M616.7 1410.8L633.4 1418.8L616.7 1427.1Z" fill="#fff"/>
</svg>
</body></html>
